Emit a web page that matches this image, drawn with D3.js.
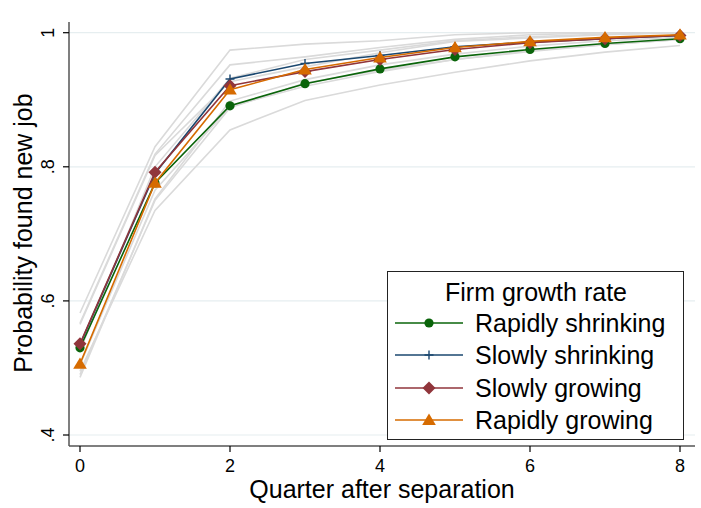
<!DOCTYPE html>
<html><head><meta charset="utf-8">
<script src="https://cdn.jsdelivr.net/npm/d3@7"></script>
<style>body{margin:0;background:#fff;}svg{display:block;font-family:"Liberation Sans",Arial,Helvetica,sans-serif;}</style>
</head><body>
<svg id="c" width="701" height="508"></svg>
<script>
const quarters = [0,1,2,3,4,5,6,7,8];
const seriesNames = ["Rapidly shrinking","Slowly shrinking","Slowly growing","Rapidly growing"];
const rapidlyShrinking = [0.530,0.776,0.891,0.924,0.946,0.964,0.975,0.984,0.991];
const slowlyShrinking  = [0.535,0.790,0.931,0.954,0.966,0.979,0.986,0.991,0.996];
const slowlyGrowing    = [0.536,0.792,0.921,0.942,0.960,0.975,0.985,0.991,0.996];
const rapidlyGrowing   = [0.506,0.776,0.915,0.945,0.963,0.978,0.987,0.993,0.997];
// confidence bounds (grey lines)
const rsLo = [0.495,0.735,0.855,0.899,0.922,0.941,0.958,0.971,0.981];
const rsHi = [0.565,0.817,0.927,0.949,0.970,0.987,0.992,0.997,1.000];
const ssLo = [0.490,0.750,0.888,0.925,0.944,0.960,0.972,0.982,0.990];
const ssHi = [0.582,0.830,0.974,0.983,0.988,0.997,1.000,1.000,1.000];
const sgLo = [0.505,0.765,0.890,0.920,0.942,0.960,0.973,0.982,0.990];
const sgHi = [0.567,0.819,0.952,0.964,0.978,0.990,0.997,1.000,1.000];
const rgLo = [0.486,0.752,0.898,0.930,0.952,0.968,0.980,0.988,0.993];
const rgHi = [0.526,0.800,0.932,0.960,0.974,0.988,0.994,0.998,1.000];
const xTicks = [0,2,4,6,8];
const yTicks = [0.4,0.6,0.8,1];
const yTickLabels = [".4",".6",".8","1"];

const colors = ["#0a640a","#1a476f","#90353b","#d66b00"];
const markers = ["circle","plus","diamond","triangle"];
const seriesVals = [rapidlyShrinking, slowlyShrinking, slowlyGrowing, rapidlyGrowing];
const bounds = [rsLo, rsHi, ssLo, ssHi, sgLo, sgHi, rgLo, rgHi];

const svg = d3.select("#c");
const L = 69, R = 695, T = 22, B = 446;
const x = d3.scaleLinear().domain([0,8]).range([80,680]);
const y = d3.scaleLinear().domain([0.4,1]).range([435,32.7]);

// gridlines
svg.append("g").selectAll("line").data(yTicks).join("line")
  .attr("x1",L).attr("x2",R).attr("y1",d=>y(d)).attr("y2",d=>y(d))
  .attr("stroke","#e6eef0").attr("stroke-width",1.2);

const line = d3.line().x((d,i)=>x(quarters[i])).y(d=>y(d));
svg.append("g").selectAll("path").data(bounds).join("path")
  .attr("d",line).attr("fill","none").attr("stroke","#dadada").attr("stroke-width",1.6);

function drawMarker(g, type, color, cx, cy){
  if(type==="circle") g.append("circle").attr("cx",cx).attr("cy",cy).attr("r",4.6).attr("fill",color);
  else if(type==="plus"){
    g.append("path").attr("d",`M${cx-4.5},${cy}H${cx+4.5}M${cx},${cy-4.5}V${cy+4.5}`).attr("stroke",color).attr("stroke-width",1.4);
  } else if(type==="diamond"){
    const s=6.5; g.append("path").attr("d",`M${cx},${cy-s}L${cx+s},${cy}L${cx},${cy+s}L${cx-s},${cy}Z`).attr("fill",color);
  } else {
    const s=6.5; g.append("path").attr("d",`M${cx},${cy-s}L${cx+s*1.05},${cy+s*0.75}L${cx-s*1.05},${cy+s*0.75}Z`).attr("fill",color);
  }
}

seriesVals.forEach((vals,k)=>{
  const g = svg.append("g");
  g.append("path").attr("d",line(vals)).attr("fill","none").attr("stroke",colors[k]).attr("stroke-width",1.6);
  vals.forEach((v,i)=>drawMarker(g, markers[k], colors[k], x(quarters[i]), y(v)));
});

// axes
const ax = svg.append("g").attr("transform",`translate(0,${B})`);
ax.append("line").attr("x1",L).attr("x2",R).attr("stroke","#555").attr("stroke-width",1.5);
ax.selectAll(".t").data(xTicks).join("line").attr("x1",d=>x(d)).attr("x2",d=>x(d)).attr("y1",0).attr("y2",6).attr("stroke","#000").attr("stroke-width",1.2);
ax.selectAll("text").data(xTicks).join("text").attr("x",d=>x(d)).attr("y",26).attr("text-anchor","middle")
  .attr("font-size",18).text(d=>d);
const ay = svg.append("g").attr("transform",`translate(${L},0)`);
ay.append("line").attr("y1",T).attr("y2",B).attr("stroke","#555").attr("stroke-width",1.5);
ay.selectAll(".t").data(yTicks).join("line").attr("y1",d=>y(d)).attr("y2",d=>y(d)).attr("x1",-6).attr("x2",0).attr("stroke","#000").attr("stroke-width",1.2);
ay.selectAll("text").data(yTicks).join("text")
  .attr("transform",(d)=>`translate(-15,${y(d)}) rotate(-90)`).attr("text-anchor","middle")
  .attr("font-size",18).text((d,i)=>yTickLabels[i]);

svg.append("text").attr("x",382).attr("y",498).attr("text-anchor","middle").attr("font-size",25).text("Quarter after separation");
svg.append("text").attr("transform","translate(32,233) rotate(-90)").attr("text-anchor","middle").attr("font-size",25).text("Probability found new job");

// legend
const lg = svg.append("g");
lg.append("rect").attr("x",387.5).attr("y",271.5).attr("width",296).attr("height",168).attr("fill","#fff").attr("stroke","#222").attr("stroke-width",1);
lg.append("text").attr("x",536).attr("y",301).attr("text-anchor","middle").attr("font-size",25).text("Firm growth rate");
const rowY = [323,355,388,420];
seriesNames.forEach((n,k)=>{
  const g = lg.append("g");
  g.append("line").attr("x1",395).attr("x2",463).attr("y1",rowY[k]).attr("y2",rowY[k]).attr("stroke",colors[k]).attr("stroke-width",1.6);
  drawMarker(g, markers[k], colors[k], 429, rowY[k]);
  g.append("text").attr("x",475).attr("y",rowY[k]+9).attr("font-size",25).text(n);
});
</script>
</body></html>
